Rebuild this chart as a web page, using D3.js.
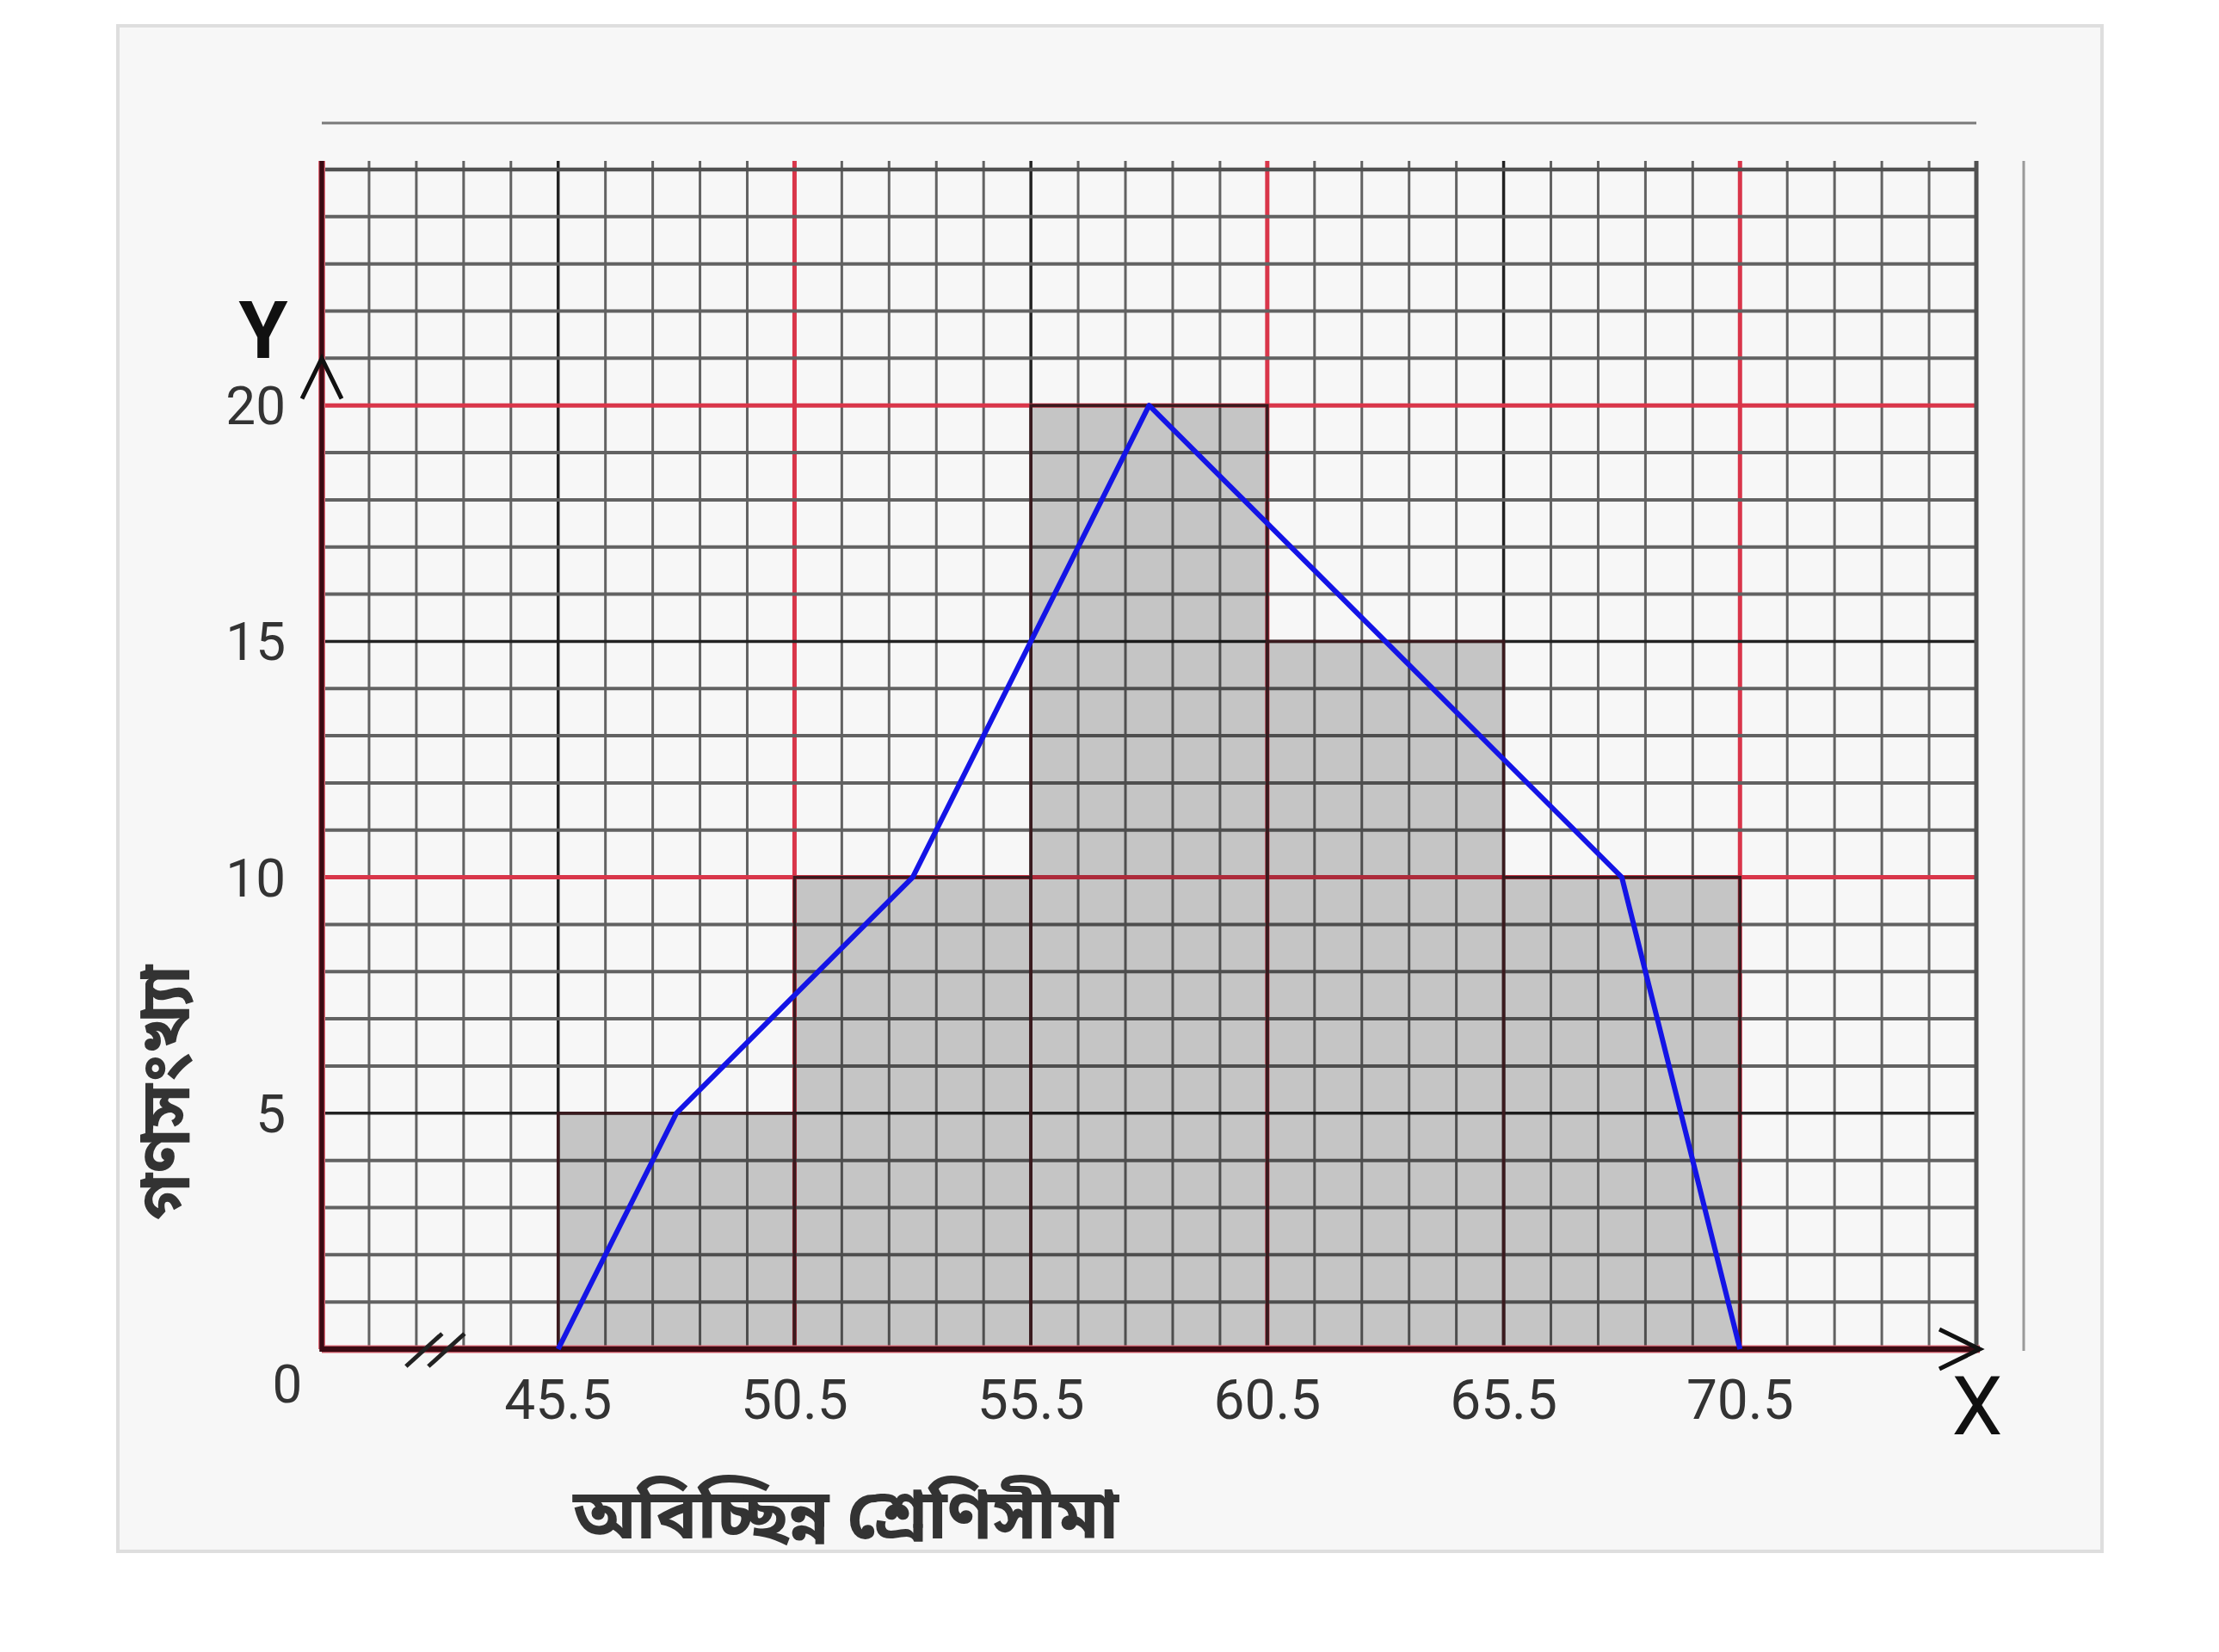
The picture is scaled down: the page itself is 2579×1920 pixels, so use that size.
<!DOCTYPE html>
<html>
<head>
<meta charset="utf-8">
<script src="https://cdn.jsdelivr.net/npm/d3@7"></script>
<style>
  body { margin: 0; background: #ffffff; }
  svg { display: block; }
</style>
</head>
<body>
<svg width="2579" height="1920"></svg>
<script>
// class limits and frequencies
var classLower = [45.5, 50.5, 55.5, 60.5, 65.5];
var classUpper = [50.5, 55.5, 60.5, 65.5, 70.5];
var frequency = [5, 10, 20, 15, 10];

// frequency polygon vertices (blue line)
var polyX = [45.5, 48, 53, 58, 63, 68, 70.5];
var polyY = [0, 5, 10, 20, 15, 10, 0];

var xTicks = [45.5, 50.5, 55.5, 60.5, 65.5, 70.5];
var yTicks = [5, 10, 15, 20];

var xTitle = "অবিচ্ছিন্ন শ্রেণিসীমা";
var yTitle = "গণসংখ্যা";

var svg = d3.select("svg");

var x = d3.scaleLinear().domain([40.5, 75.5]).range([374, 2297]);
var y = d3.scaleLinear().domain([0, 25]).range([1568, 197]);

var bengali = "'Noto Sans Bengali', 'Lohit Bengali', 'Noto Sans', sans-serif";
var latin = "Roboto, 'Noto Sans', sans-serif";

// panel behind the graph paper
svg.append("rect")
  .attr("x", 137).attr("y", 30)
  .attr("width", 2306).attr("height", 1773)
  .attr("fill", "#f7f7f7")
  .attr("stroke", "#dedede")
  .attr("stroke-width", 4);

// stray lines around the paper
svg.append("line")
  .attr("x1", x(40.5)).attr("x2", x(75.5))
  .attr("y1", 143).attr("y2", 143)
  .attr("stroke", "#7a7a7a").attr("stroke-width", 3);
svg.append("line")
  .attr("x1", 2352).attr("x2", 2352)
  .attr("y1", y(25) - 10).attr("y2", y(0) + 2)
  .attr("stroke", "#9a9a9a").attr("stroke-width", 3);

// ---------------------------------------------------------------- grid
var grid = svg.append("g").attr("class", "grid");

function lineStyle(i, horiz) {
  if (i % 10 === 0) return { c: "#d9364a", w: 5 };   // red every 10 cells
  if (i % 5 === 0) return { c: "#222222", w: 3.5 };  // dark every 5 cells
  return { c: "#626262", w: horiz ? 4 : 3 };
}

var vIdx = d3.range(1, 35);
grid.selectAll("line.v")
  .data(vIdx)
  .enter().append("line")
  .attr("class", "v")
  .attr("x1", d => x(40.5 + d)).attr("x2", d => x(40.5 + d))
  .attr("y1", y(25) - 10).attr("y2", y(0))
  .attr("stroke", d => lineStyle(d, false).c)
  .attr("stroke-width", d => lineStyle(d, false).w);

var hIdx = d3.range(1, 25);
grid.selectAll("line.h")
  .data(hIdx)
  .enter().append("line")
  .attr("class", "h")
  .attr("x1", x(40.5)).attr("x2", x(75.5))
  .attr("y1", d => y(d)).attr("y2", d => y(d))
  .attr("stroke", d => lineStyle(d, true).c)
  .attr("stroke-width", d => lineStyle(d, true).w);

// outer border of the paper (top and right)
grid.append("line")
  .attr("x1", x(40.5)).attr("x2", x(75.5))
  .attr("y1", y(25)).attr("y2", y(25))
  .attr("stroke", "#505050").attr("stroke-width", 4.5);
grid.append("line")
  .attr("x1", x(75.5)).attr("x2", x(75.5))
  .attr("y1", y(25) - 10).attr("y2", y(0))
  .attr("stroke", "#505050").attr("stroke-width", 5);

// ---------------------------------------------------------------- histogram
var bars = classLower.map(function(lo, i) {
  return { lo: lo, hi: classUpper[i], f: frequency[i] };
});

svg.append("g")
  .selectAll("rect")
  .data(bars)
  .enter().append("rect")
  .attr("x", d => x(d.lo))
  .attr("y", d => y(d.f))
  .attr("width", d => x(d.hi) - x(d.lo))
  .attr("height", d => y(0) - y(d.f))
  .attr("fill", "#000")
  .attr("fill-opacity", 0.2)
  .attr("stroke", "#3a1a1e")
  .attr("stroke-width", 3.5);

// ---------------------------------------------------------------- axes
var axes = svg.append("g");
axes.append("line")
  .attr("x1", x(40.5)).attr("x2", x(75.5) + 4)
  .attr("y1", y(0)).attr("y2", y(0))
  .attr("stroke", "#e26a78").attr("stroke-width", 9);
axes.append("line")
  .attr("x1", x(40.5)).attr("x2", x(40.5))
  .attr("y1", y(25) - 10).attr("y2", y(0))
  .attr("stroke", "#e26a78").attr("stroke-width", 8);
axes.append("line")
  .attr("x1", x(40.5)).attr("x2", x(75.5) + 4)
  .attr("y1", y(0)).attr("y2", y(0))
  .attr("stroke", "#3a0a12").attr("stroke-width", 6.5);
axes.append("line")
  .attr("x1", x(40.5)).attr("x2", x(40.5))
  .attr("y1", y(25) - 10).attr("y2", y(0) + 3)
  .attr("stroke", "#3a0a12").attr("stroke-width", 5.5);

// arrow heads
var yTip = [x(40.5), y(21)];
axes.append("path")
  .attr("d", d3.line()([[yTip[0] - 23, yTip[1] + 47], yTip, [yTip[0] + 23, yTip[1] + 47]]))
  .attr("fill", "none").attr("stroke", "#111").attr("stroke-width", 5);
var xTip = [x(75.5) + 4, y(0)];
axes.append("path")
  .attr("d", d3.line()([[xTip[0] - 47, xTip[1] - 23], xTip, [xTip[0] - 47, xTip[1] + 23]]))
  .attr("fill", "none").attr("stroke", "#111").attr("stroke-width", 5);

// axis break //
var bx = x(42.9);
[-13, 13].forEach(function(off) {
  axes.append("line")
    .attr("x1", bx + off - 21).attr("y1", y(0) + 20)
    .attr("x2", bx + off + 21).attr("y2", y(0) - 18)
    .attr("stroke", "#222").attr("stroke-width", 5);
});

// ---------------------------------------------------------------- frequency polygon
var pts = polyX.map((v, i) => [x(v), y(polyY[i])]);
svg.append("path")
  .datum(pts)
  .attr("d", d3.line())
  .attr("fill", "none")
  .attr("stroke", "#1414e6")
  .attr("stroke-width", 6)
  .attr("stroke-linejoin", "round");

// ---------------------------------------------------------------- labels
var labels = svg.append("g")
  .style("font-family", latin)
  .attr("fill", "#333");

labels.selectAll("text.yt")
  .data(yTicks)
  .enter().append("text")
  .attr("class", "yt")
  .attr("x", 332)
  .attr("y", d => y(d) + 22)
  .attr("text-anchor", "end")
  .attr("font-size", 62)
  .text(d => d);

labels.append("text")
  .attr("x", 334).attr("y", 1630)
  .attr("text-anchor", "middle")
  .attr("font-size", 62)
  .text("0");

labels.selectAll("text.xt")
  .data(xTicks)
  .enter().append("text")
  .attr("class", "xt")
  .attr("x", d => x(d))
  .attr("y", 1649)
  .attr("text-anchor", "middle")
  .attr("font-size", 64)
  .text(d => d.toFixed(1));

labels.append("text")
  .attr("x", 306).attr("y", 416)
  .attr("text-anchor", "middle")
  .attr("font-size", 92)
  .attr("font-weight", "bold")
  .attr("fill", "#111")
  .text("Y");

labels.append("text")
  .attr("x", 2298).attr("y", 1667)
  .attr("text-anchor", "middle")
  .attr("font-size", 94)
  .attr("fill", "#111")
  .text("X");

svg.append("text")
  .attr("x", 983).attr("y", 1788)
  .attr("text-anchor", "middle")
  .style("font-family", bengali)
  .attr("font-size", 80)
  .attr("font-weight", "bold")
  .attr("fill", "#333")
  .text(xTitle);

svg.append("text")
  .attr("transform", "translate(220,1270) rotate(-90)")
  .attr("text-anchor", "middle")
  .style("font-family", bengali)
  .attr("font-size", 80)
  .attr("font-weight", "bold")
  .attr("fill", "#333")
  .text(yTitle);
</script>
</body>
</html>
